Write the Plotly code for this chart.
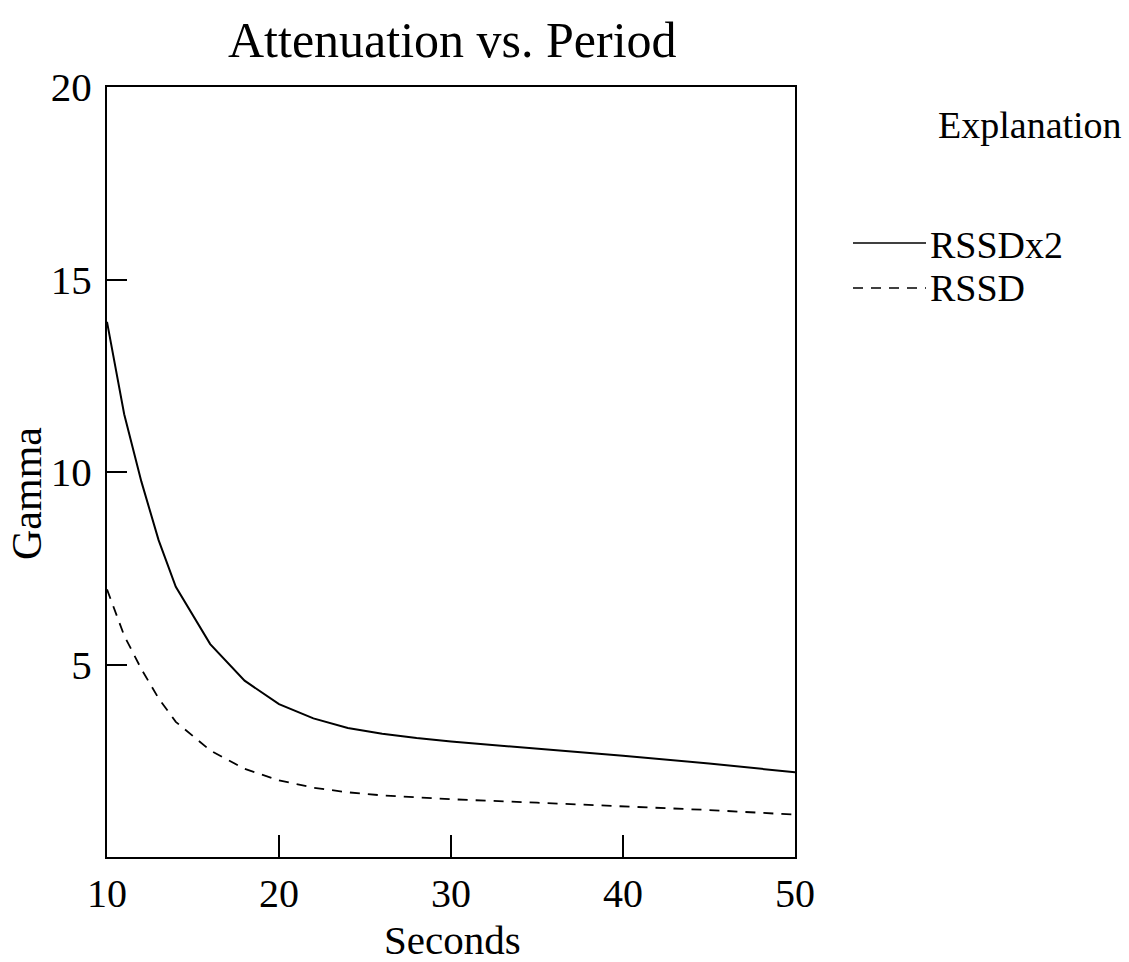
import plotly.graph_objects as go

# Period (seconds) and attenuation factor for the two models
period = [10, 11, 12, 13, 14, 16, 18, 20, 22, 24, 26, 28, 30, 35, 40, 45, 50]
rssd_x2 = [13.9, 11.5, 9.75, 8.23, 7.02, 5.53, 4.58, 3.97, 3.6, 3.35, 3.2, 3.09, 3.0, 2.82, 2.63, 2.43, 2.2]
rssd = [6.95, 5.75, 4.88, 4.12, 3.51, 2.77, 2.29, 1.99, 1.8, 1.68, 1.6, 1.55, 1.5, 1.41, 1.32, 1.22, 1.1]

x_ticks = [10, 20, 30, 40, 50]
y_ticks = [5, 10, 15, 20]

FONT = "Liberation Serif, Times New Roman, serif"

W, H = 1129, 962
L, R, T, B = 107, 795, 87, 857  # plot frame edges in page pixels


def px(x, y):
    """Page pixel position -> paper coordinates."""
    return (x - L) / (R - L), (B - y) / (B - T)


fig = go.Figure()
fig.add_trace(go.Scatter(x=period, y=rssd_x2, mode="lines", name="RSSDx2",
                         line=dict(color="black", width=2), showlegend=False))
fig.add_trace(go.Scatter(x=period, y=rssd, mode="lines", name="RSSD",
                         line=dict(color="black", width=1.8, dash="10px,8px"),
                         showlegend=False))

axis_common = dict(
    showgrid=False, zeroline=False, showline=True, mirror=True,
    linecolor="black", linewidth=2, ticks="inside", tickcolor="black",
    tickwidth=1.5,
)

fig.update_xaxes(range=[10, 50], tickvals=x_ticks, ticklen=22,
                 tickfont=dict(family=FONT, size=40, color="black"), **axis_common)
fig.update_yaxes(range=[0, 20], tickvals=y_ticks, ticklen=20, ticklabelstandoff=5,
                 tickfont=dict(family=FONT, size=41, color="black"), **axis_common)


def label(text, x, y, size, xanchor="center", angle=0):
    xp, yp = px(x, y)
    return dict(text=text, x=xp, y=yp, xref="paper", yref="paper",
                xanchor=xanchor, yanchor="middle", textangle=angle,
                showarrow=False, font=dict(family=FONT, size=size, color="black"))


annotations = [
    label("Attenuation vs. Period", 452, 40, 50),
    label("Seconds", 452, 940, 41),
    label("Gamma", 27, 494, 42, angle=-90),
    label("Explanation", 1030, 125, 38),
    label("RSSDx2", 928, 245, 38, xanchor="left"),
    label("RSSD", 928, 288, 38, xanchor="left"),
]
fig.update_layout(annotations=annotations)

# Key line samples
for yk, dash in ((243, "solid"), (288, "10px,8px")):
    x0, y0 = px(853, yk)
    x1, _ = px(926, yk)
    fig.add_shape(type="line", xref="paper", yref="paper", x0=x0, x1=x1, y0=y0, y1=y0,
                  line=dict(color="black", width=1.5, dash=dash))

fig.update_layout(
    width=W, height=H,
    margin=dict(l=L, r=W - R, t=T, b=H - B),
    paper_bgcolor="white", plot_bgcolor="white",
    font=dict(family=FONT, color="black"),
)

fig.write_html("out.html")
